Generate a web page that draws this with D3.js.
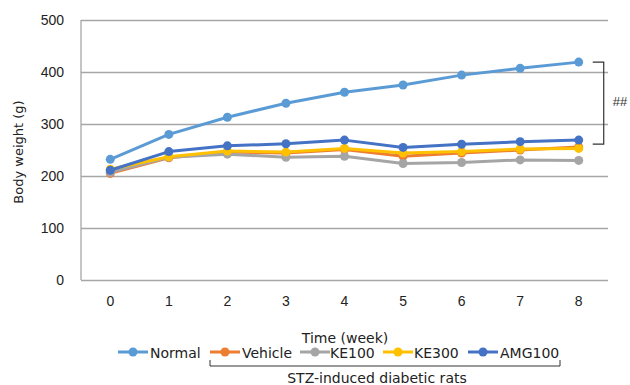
<!DOCTYPE html>
<html>
<head>
<meta charset="utf-8">
<script src="https://cdn.jsdelivr.net/npm/d3@7"></script>
<style>
  body { margin: 0; background: #fff; }
  svg { font-family: 'DejaVu Sans', Verdana, sans-serif; }
</style>
</head>
<body>
<div id="chart"></div>
<script>
const weeks = ['0', '1', '2', '3', '4', '5', '6', '7', '8']
const yTicks = [0, 100, 200, 300, 400, 500]

const normal = [232, 280, 313, 340, 361, 375, 394, 407, 419]
const vehicle = [205, 235, 246, 244, 251, 238, 244, 250, 256]
const ke100 = [207, 236, 242, 236, 238, 224, 226, 231, 230]
const ke300 = [213, 237, 248, 246, 253, 244, 247, 252, 253]
const amg100 = [211, 247, 258, 262, 269, 255, 261, 266, 269]

const seriesNames = ['Normal', 'Vehicle', 'KE100', 'KE300', 'AMG100']
const seriesColors = ['#5b9bd5', '#ed7d31', '#a5a5a5', '#ffc000', '#4472c4']

const series = [normal, vehicle, ke100, ke300, amg100].map((values, i) => ({
  name: seriesNames[i], color: seriesColors[i], values
}))

const width = 630, height = 385
const margin = { top: 20, right: 22, bottom: 105, left: 81 }

const svg = d3.select('#chart').append('svg')
  .attr('width', width)
  .attr('height', height)

const x = d3.scaleBand()
  .domain(weeks)
  .range([margin.left, width - margin.right])

const y = d3.scaleLinear()
  .domain([0, 500])
  .range([height - margin.bottom, margin.top])

// grid + y axis
svg.append('g')
  .attr('transform', `translate(${margin.left},0)`)
  .call(d3.axisLeft(y).tickValues(yTicks).tickSize(-(width - margin.left - margin.right)).tickPadding(17))
  .call(g => g.select('.domain').remove())
  .call(g => g.selectAll('line').attr('stroke', '#a6a6a6').attr('stroke-width', 1.3))
  .call(g => g.selectAll('text').attr('font-size', 14).attr('fill', '#222').attr('font-family', null))

svg.append('line')
  .attr('x1', margin.left).attr('x2', margin.left)
  .attr('y1', y(500)).attr('y2', y(0))
  .attr('stroke', '#a6a6a6').attr('stroke-width', 1.3)

// x axis
svg.append('g')
  .attr('transform', `translate(0,${y(0)})`)
  .call(d3.axisBottom(x).tickSize(0).tickPadding(16))
  .call(g => g.select('.domain').remove())
  .call(g => g.selectAll('text').attr('font-size', 14).attr('fill', '#222').attr('font-family', null))

// lines
const line = d3.line()
  .x((d, i) => x(weeks[i]) + x.bandwidth() / 2)
  .y(d => y(d))

const s = svg.append('g').selectAll('g')
  .data(series)
  .join('g')

s.append('path')
  .attr('d', d => line(d.values))
  .attr('fill', 'none')
  .attr('stroke', d => d.color)
  .attr('stroke-width', 3)
  .attr('stroke-linejoin', 'round')

s.selectAll('circle')
  .data(d => d.values.map(v => ({ v, color: d.color })))
  .join('circle')
  .attr('cx', (d, i) => x(weeks[i]) + x.bandwidth() / 2)
  .attr('cy', d => y(d.v))
  .attr('r', 4.5)
  .attr('fill', d => d.color)

// significance bracket
const bx = x('8') + x.bandwidth() / 2
svg.append('path')
  .attr('d', `M${bx + 14},${y(normal[8])}H${bx + 25}V${y(amg100[8]) + 4}H${bx + 14}`)
  .attr('fill', 'none')
  .attr('stroke', '#333')
  .attr('stroke-width', 1.2)
svg.append('text')
  .attr('x', bx + 34)
  .attr('y', (y(normal[8]) + y(amg100[8])) / 2 + 5)
  .attr('font-size', 13)
  .attr('font-family', "'Liberation Sans', Arial, sans-serif")
  .attr('fill', '#333')
  .text('##')

// axis titles
svg.append('text')
  .attr('transform', `translate(23,${(y(0) + y(500)) / 2 + 2}) rotate(-90)`)
  .attr('text-anchor', 'middle')
  .attr('font-size', 13)
  .attr('fill', '#222')
  .text('Body weight (g)')

svg.append('text')
  .attr('x', 345)
  .attr('y', 343)
  .attr('text-anchor', 'middle')
  .attr('font-size', 14)
  .attr('fill', '#222')
  .text('Time (week)')

// legend
const legendX = [118, 210, 300, 383, 468]
const legendTextX = [150, 242, 330, 414, 500]
const legend = svg.append('g').selectAll('g')
  .data(series)
  .join('g')
legend.append('line')
  .attr('x1', (d, i) => legendX[i]).attr('x2', (d, i) => legendX[i] + 30)
  .attr('y1', 352).attr('y2', 352)
  .attr('stroke', d => d.color).attr('stroke-width', 3)
legend.append('circle')
  .attr('cx', (d, i) => legendX[i] + 15).attr('cy', 352).attr('r', 4.5)
  .attr('fill', d => d.color)
legend.append('text')
  .attr('x', (d, i) => legendTextX[i]).attr('y', 358)
  .attr('font-size', 14).attr('fill', '#222')
  .text(d => d.name)

svg.append('path')
  .attr('d', 'M210,360V366H560V360')
  .attr('fill', 'none').attr('stroke', '#333').attr('stroke-width', 1)
svg.append('text')
  .attr('x', 377).attr('y', 383)
  .attr('text-anchor', 'middle')
  .attr('font-size', 14).attr('fill', '#222')
  .text('STZ-induced diabetic rats')
</script>
</body>
</html>
